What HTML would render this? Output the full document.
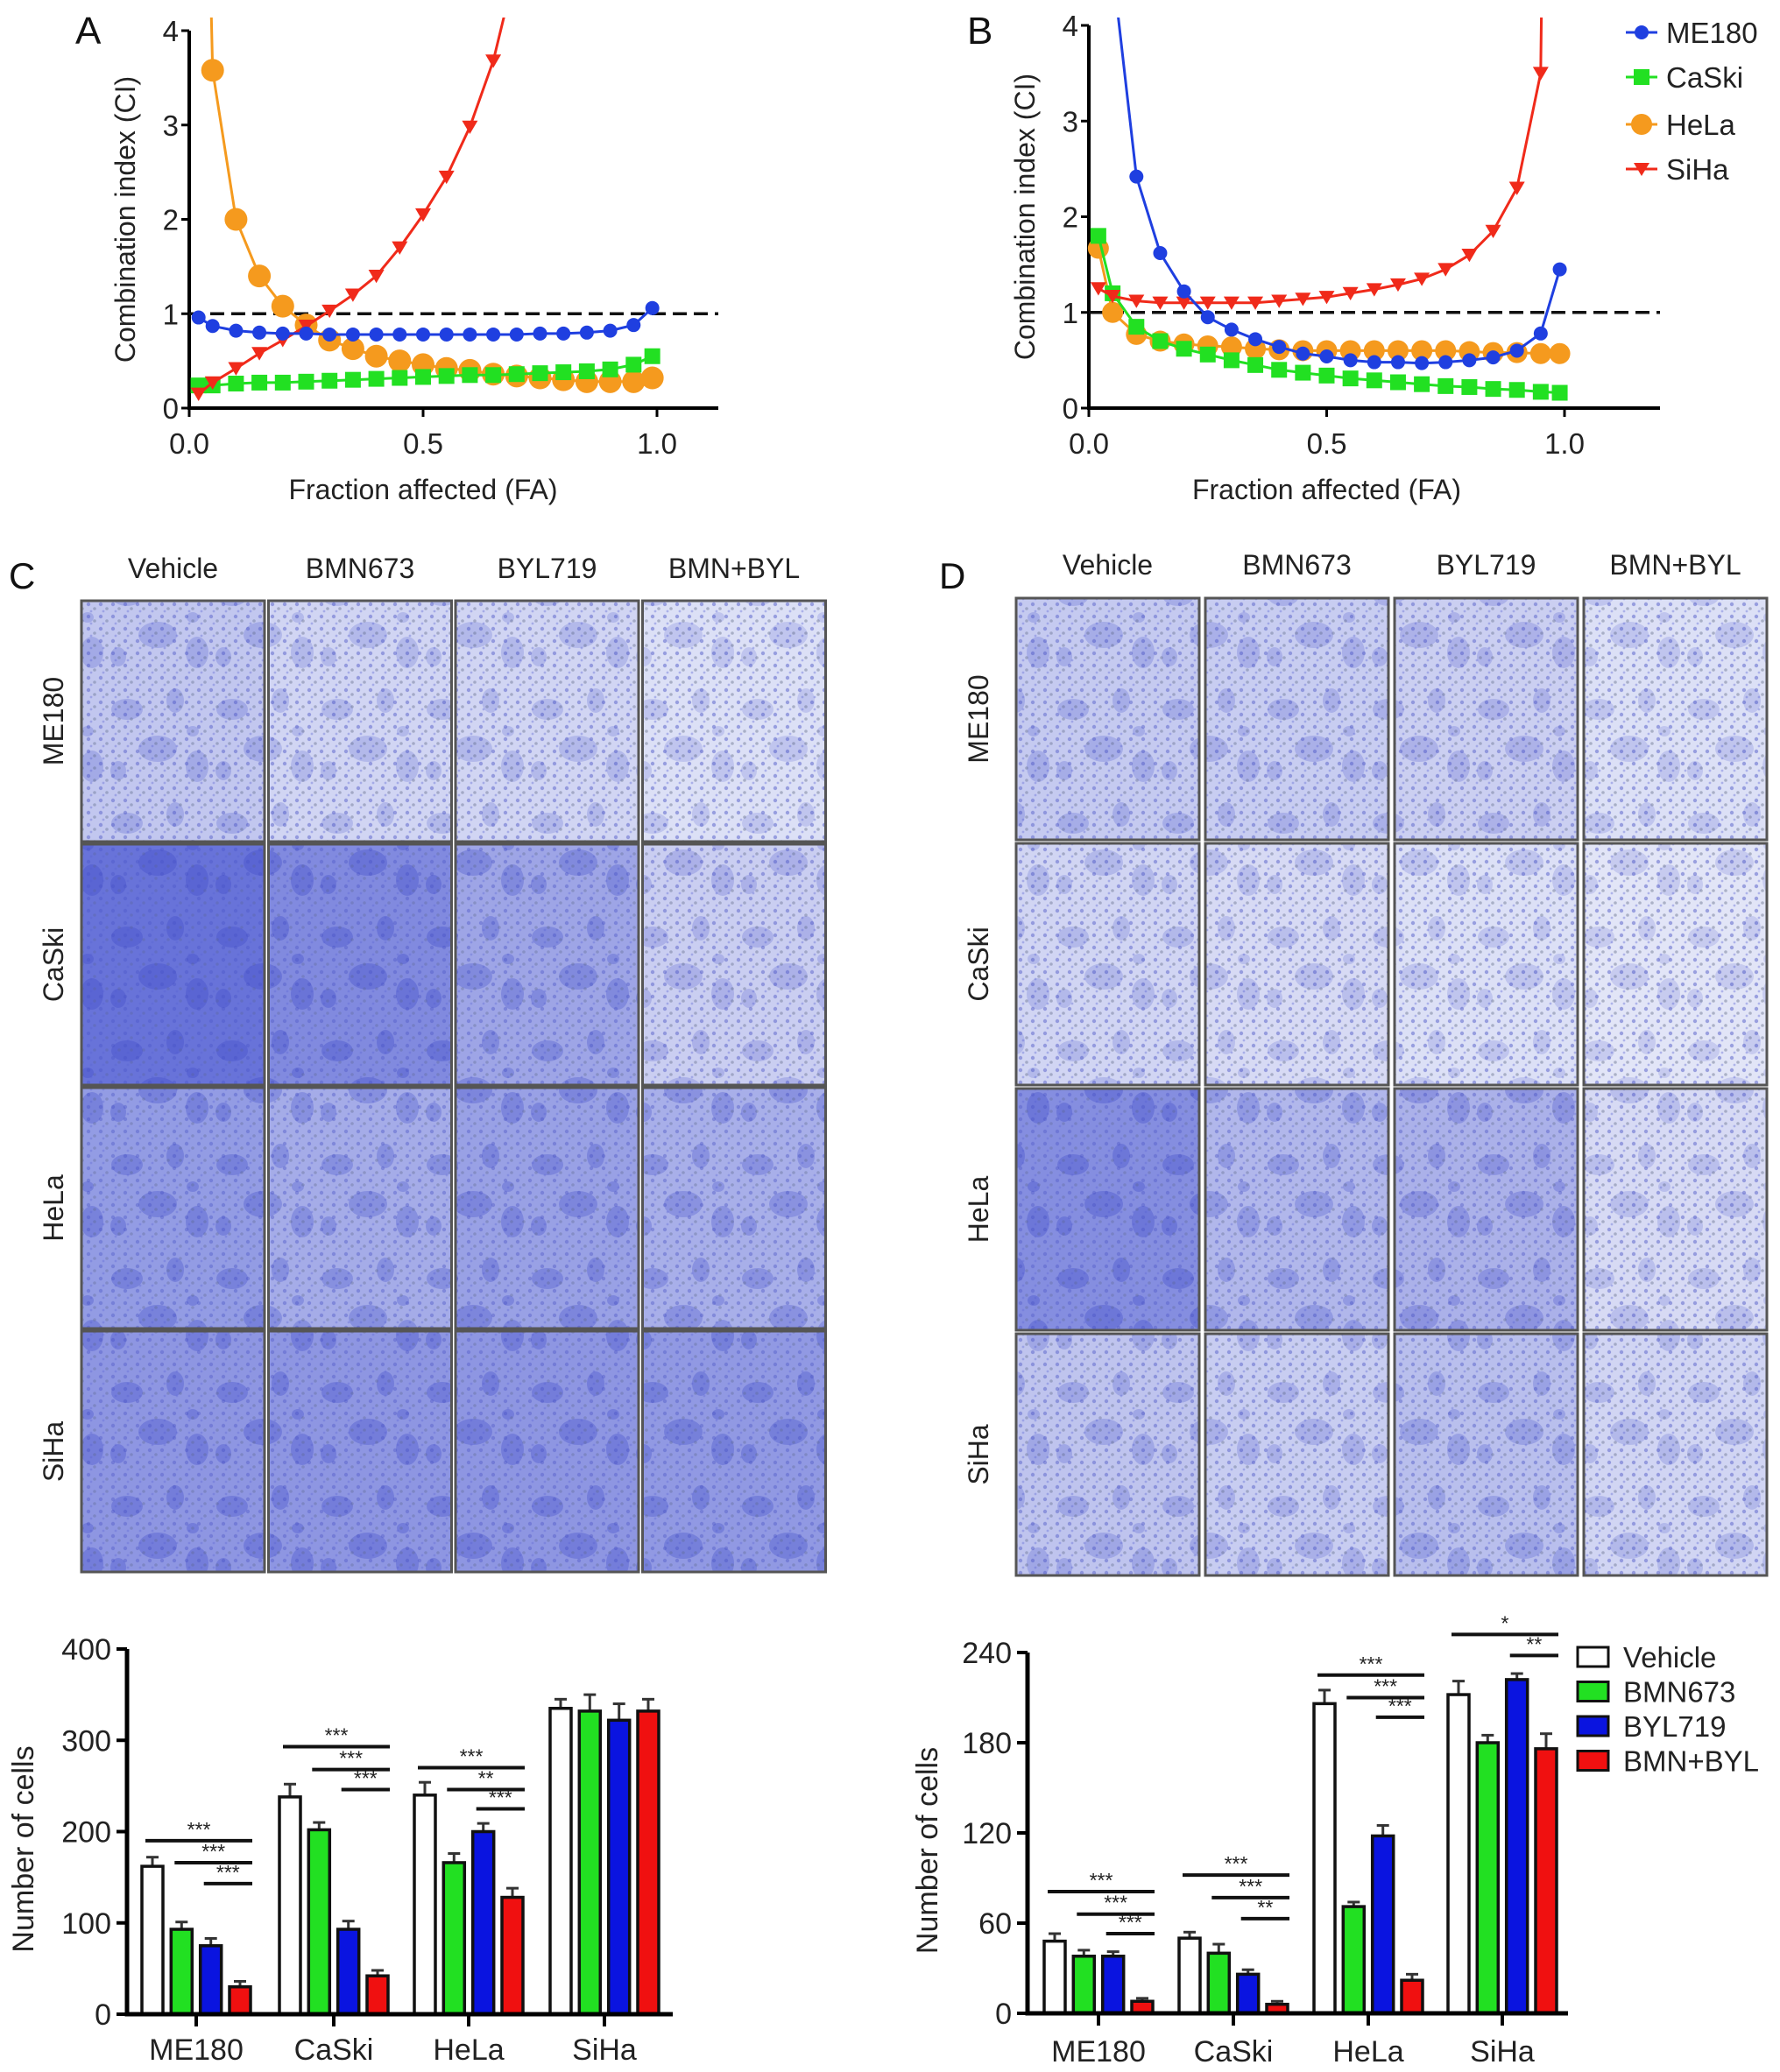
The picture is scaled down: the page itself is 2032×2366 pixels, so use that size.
<!DOCTYPE html>
<html><head><meta charset="utf-8"><style>
html,body{margin:0;padding:0;background:#fff;}
svg{display:block;font-family:"Liberation Sans",Arial,sans-serif;}
</style></head><body>
<svg id="fig" width="2032" height="2366" viewBox="0 0 2032 2366" xmlns="http://www.w3.org/2000/svg">
<defs>
<clipPath id="clipA"><rect x="200" y="20" width="630" height="460"/></clipPath>
<clipPath id="clipB"><rect x="1228" y="20" width="680" height="460"/></clipPath>
<pattern id="speck" width="14" height="14" patternUnits="userSpaceOnUse">
<circle cx="3" cy="4" r="2.2" fill="#3b46c0" opacity="0.5"/>
<circle cx="10" cy="9" r="1.8" fill="#55607a" opacity="0.45"/>
<circle cx="6" cy="12" r="1.4" fill="#4a56d0" opacity="0.4"/>
</pattern>
<pattern id="blobs" width="120" height="130" patternUnits="userSpaceOnUse">
<ellipse cx="25" cy="30" rx="18" ry="12" fill="#4a55cc"/>
<ellipse cx="80" cy="20" rx="10" ry="14" fill="#4a55cc"/>
<ellipse cx="60" cy="75" rx="22" ry="15" fill="#4a55cc"/>
<ellipse cx="15" cy="100" rx="9" ry="11" fill="#4a55cc"/>
<ellipse cx="105" cy="95" rx="13" ry="18" fill="#4a55cc"/>
<ellipse cx="100" cy="55" rx="7" ry="6" fill="#4a55cc"/>
</pattern>
</defs>
<g id="root"></g>
</svg>
<script>
// ---- Line chart data (CI vs FA) ----
const fa = [0.02,0.05,0.1,0.15,0.2,0.25,0.3,0.35,0.4,0.45,0.5,0.55,0.6,0.65,0.7,0.75,0.8,0.85,0.9,0.95,0.99];
const aME180 = [0.96,0.87,0.82,0.80,0.79,0.79,0.78,0.78,0.78,0.78,0.78,0.78,0.78,0.78,0.78,0.79,0.79,0.80,0.82,0.88,1.06];
const aCaSki = [0.24,0.24,0.26,0.27,0.27,0.28,0.29,0.30,0.31,0.32,0.33,0.34,0.35,0.35,0.36,0.37,0.38,0.39,0.41,0.46,0.55];
const aHeLa  = [10,3.58,2.0,1.4,1.08,0.88,0.72,0.63,0.55,0.5,0.46,0.42,0.4,0.36,0.34,0.32,0.3,0.28,0.28,0.28,0.32];
const aSiHa  = [0.15,0.27,0.42,0.58,0.72,0.87,1.03,1.2,1.4,1.7,2.05,2.45,2.98,3.68,4.7,null,null,null,null,null,null];
const bME180 = [8,4.6,2.42,1.62,1.22,0.95,0.82,0.72,0.64,0.57,0.54,0.5,0.48,0.48,0.47,0.48,0.5,0.53,0.6,0.78,1.45];
const bCaSki = [1.8,1.2,0.85,0.7,0.62,0.56,0.5,0.45,0.4,0.37,0.34,0.31,0.29,0.27,0.25,0.23,0.22,0.2,0.19,0.17,0.16];
const bHeLa  = [1.67,1.0,0.77,0.7,0.67,0.65,0.64,0.62,0.61,0.6,0.6,0.6,0.6,0.6,0.6,0.6,0.59,0.58,0.58,0.57,0.57];
const bSiHa  = [1.25,1.17,1.12,1.1,1.1,1.1,1.1,1.1,1.12,1.14,1.16,1.2,1.24,1.29,1.35,1.45,1.6,1.85,2.3,3.5,20];
const ciTicks = [0,1,2,3,4];
const faTicks = ["0.0","0.5","1.0"];
const faTickVals = [0,0.5,1];
// ---- Bar chart data ----
const cellLines = ["ME180","CaSki","HeLa","SiHa"];
const treatments = ["Vehicle","BMN673","BYL719","BMN+BYL"];
const cVehicle = [162,238,240,335];
const cBMN = [93,202,166,332];
const cBYL = [75,93,200,322];
const cCombo = [30,42,128,332];
const cErr = [[10,14,14,10],[8,8,10,18],[8,9,9,18],[6,6,10,13]];
const cTicks = [0,100,200,300,400];
const dVehicle = [48,50,206,212];
const dBMN = [38,40,71,180];
const dBYL = [38,26,118,222];
const dCombo = [8,6,22,176];
const dErr = [[5,4,9,9],[4,6,3,5],[3,3,7,4],[2,2,4,10]];
const dTicks = [0,60,120,180,240];
const cSig = [[0,0,3,190,"***"],[0,1,3,166,"***"],[0,2,3,143,"***"],[1,0,3,293,"***"],[1,1,3,268,"***"],[1,2,3,246,"***"],[2,0,3,270,"***"],[2,1,3,246,"**"],[2,2,3,225,"***"]];
const dSig = [[0,0,3,81,"***"],[0,1,3,66,"***"],[0,2,3,53,"***"],[1,0,3,92,"***"],[1,1,3,77,"***"],[1,2,3,63,"**"],[2,0,3,225,"***"],[2,1,3,210,"***"],[2,2,3,197,"***"],[3,0,3,252,"*"],[3,2,3,238,"**"]];
// micrograph stain density
const cDensity = [[0.3,0.2,0.2,0.12],[0.92,0.75,0.55,0.25],[0.62,0.5,0.58,0.48],[0.66,0.66,0.66,0.64]];
const dDensity = [[0.28,0.26,0.24,0.12],[0.2,0.16,0.12,0.08],[0.72,0.42,0.46,0.16],[0.32,0.26,0.36,0.2]];

const NS="http://www.w3.org/2000/svg";
const root=document.getElementById('root');
function el(tag,attrs,parent){const e=document.createElementNS(NS,tag);for(const k in attrs)e.setAttribute(k,attrs[k]);(parent||root).appendChild(e);return e;}
function txt(s,attrs,parent){const e=el('text',attrs,parent);e.textContent=s;return e;}

const colors={ME180:"#1f3fe0",CaSki:"#22e022",HeLa:"#f59a1e",SiHa:"#f02a1a"};

function lineChart(p){
  const g=el('g',{});
  
  
  const X=v=>p.x0+(p.x1-p.x0)*v, Y=v=>p.y0-(p.y0-p.y4)*v/4;
  const ax=el('path',{d:`M${p.x0} ${p.y4} V${p.y0} H${p.xe}`,stroke:'#000','stroke-width':4,fill:'none'},g);
  
  
  ciTicks.forEach(t=>{
    el('line',{x1:p.x0-9,x2:p.x0,y1:Y(t),y2:Y(t),stroke:'#000','stroke-width':3},g);
    const l=txt(String(t),{x:p.x0-12,y:Y(t)+12,'text-anchor':'end','font-size':33,fill:'#222'},g);
    
    
  });
  faTickVals.forEach((t,i)=>{
    el('line',{x1:X(t),x2:X(t),y1:p.y0,y2:p.y0+10,stroke:'#000','stroke-width':3},g);
    const l=txt(faTicks[i],{x:X(t),y:p.y0+52,'text-anchor':'middle','font-size':33,fill:'#222'},g);
    
    
  });
  const yt=txt('Combination index (CI)',{x:0,y:0,'text-anchor':'middle','font-size':32,fill:'#222',transform:`translate(${p.x0-62},${(p.y0+p.y4)/2}) rotate(-90)`},g);
  
  
  const xt=txt('Fraction affected (FA)',{x:(p.x0+p.x1)/2,y:p.y0+104,'text-anchor':'middle','font-size':32,fill:'#222'},g);
  
  
  const dl=el('line',{x1:p.x0,x2:p.xe,y1:Y(1),y2:Y(1),stroke:'#111','stroke-width':3.5,'stroke-dasharray':'16 8'},g);
  
  
  const pg=el('g',{'clip-path':`url(#${p.clip})`},g);
  p.series.forEach(s=>{
    const sg=el('g',{},pg);
    
    
    let d='';
    s.vals.forEach((v,i)=>{if(v===null)return;d+=(d?'L':'M')+X(fa[i]).toFixed(1)+' '+Y(v).toFixed(1);});
    el('path',{d,stroke:s.color,'stroke-width':3,fill:'none'},sg);
    s.vals.forEach((v,i)=>{
      if(v===null||v>4.05)return;
      const cx=X(fa[i]),cy=Y(v);let m;
      if(s.shape==='circle')m=el('circle',{cx,cy,r:s.r,fill:s.color},sg);
      else if(s.shape==='square')m=el('rect',{x:cx-s.r,y:cy-s.r,width:2*s.r,height:2*s.r,fill:s.color},sg);
      else m=el('path',{d:`M${cx-s.r} ${cy-s.r*0.8} H${cx+s.r} L${cx} ${cy+s.r*0.9} Z`,fill:s.color},sg);
      
      
    });
  });
  const pl=txt(p.letter,{x:p.lx,y:p.ly,'font-size':44,fill:'#111'},g);
  
  
}
lineChart({name:'panel-a-ci-chart',letter:'A',lx:86,ly:50,x0:216,x1:750,xe:820,y0:466,y4:35,clip:'clipA',series:[
  {label:'HeLa',vals:aHeLa,color:colors.HeLa,shape:'circle',r:13},
  {label:'CaSki',vals:aCaSki,color:colors.CaSki,shape:'square',r:9},
  {label:'SiHa',vals:aSiHa,color:colors.SiHa,shape:'tri',r:9},
  {label:'ME180',vals:aME180,color:colors.ME180,shape:'circle',r:8}]});
lineChart({name:'panel-b-ci-chart',letter:'B',lx:1104,ly:50,x0:1243,x1:1786,xe:1895,y0:466,y4:29,clip:'clipB',series:[
  {label:'HeLa',vals:bHeLa,color:colors.HeLa,shape:'circle',r:12},
  {label:'CaSki',vals:bCaSki,color:colors.CaSki,shape:'square',r:9},
  {label:'SiHa',vals:bSiHa,color:colors.SiHa,shape:'tri',r:9},
  {label:'ME180',vals:bME180,color:colors.ME180,shape:'circle',r:8}]});
const lgB=el('g',{});


[["ME180","circle",37],["CaSki","square",88],["HeLa","circle2",142],["SiHa","tri",193]].forEach(r=>{
  const c=colors[r[0]],y=r[2];
  const eg=el('g',{},lgB);
  
  
  el('line',{x1:1856,x2:1892,y1:y,y2:y,stroke:c,'stroke-width':3},eg);
  if(r[1]==='circle')el('circle',{cx:1874,cy:y,r:8,fill:c},eg);
  else if(r[1]==='circle2')el('circle',{cx:1874,cy:y,r:12,fill:c},eg);
  else if(r[1]==='square')el('rect',{x:1865,y:y-9,width:18,height:18,fill:c},eg);
  else el('path',{d:`M1865 ${y-7} H1883 L1874 ${y+8} Z`,fill:c},eg);
  txt(r[0],{x:1902,y:y+12,'font-size':33,fill:'#222'},eg);
});

// ---- micrographs ----
function grid(p){
  const g=el('g',{});
  
  
  const pl=txt(p.letter,{x:p.lx,y:p.ly,'font-size':42,fill:'#111'},g);
  
  
  treatments.forEach((t,j)=>{
    const h=txt(t,{x:p.x+j*p.px+p.w/2,y:p.hy,'text-anchor':'middle','font-size':32,fill:'#222'},g);
    
    
  });
  cellLines.forEach((c,i)=>{
    const yy=p.y+i*p.py;
    const rl=txt(c,{x:0,y:0,'text-anchor':'middle','font-size':32,fill:'#222',transform:`translate(${p.rx},${yy+p.h/2}) rotate(-90)`},g);
    
    
    treatments.forEach((t,j)=>{
      const d=p.dens[i][j];
      const r=Math.round(238-(238-92)*d),gg=Math.round(240-(240-104)*d),b=Math.round(250-(250-214)*d);
      const xx=p.x+j*p.px;
      const cg=el('g',{},g);
      
      
      el('rect',{x:xx,y:yy,width:p.w,height:p.h,fill:`rgb(${r},${gg},${b})`},cg);
      el('rect',{x:xx,y:yy,width:p.w,height:p.h,fill:'url(#blobs)',opacity:0.15+0.35*d,transform:`translate(0,0)`},cg);
      el('rect',{x:xx,y:yy,width:p.w,height:p.h,fill:'url(#speck)',opacity:0.5+0.4*(1-d)},cg);
      el('rect',{x:xx,y:yy,width:p.w,height:p.h,fill:'none',stroke:'#555','stroke-width':3},cg);
    });
  });
}
grid({name:'panel-c-micrographs',letter:'C',lx:10,ly:672,x:93,y:686,w:209,h:275,px:213.5,py:278,hy:660,rx:72,dens:cDensity});
grid({name:'panel-d-micrographs',letter:'D',lx:1072,ly:672,x:1160,y:683,w:209,h:276,px:216,py:280,hy:656,rx:1128,dens:dDensity});

// ---- bar charts ----
const barColors=["#ffffff","#22e022","#0a14e0","#f01010"];
function barChart(p){
  const g=el('g',{});
  
  
  const Y=v=>p.y0-(p.y0-p.yTop)*v/p.max;
  const offs=[-50,-16.7,16.7,50];
  p.series.forEach((s,k)=>{
    s.forEach((v,i)=>{
      const cx=p.centers[i]+offs[k],e=p.err[k][i];
      const bg=el('g',{},g);
      
      
      el('line',{x1:cx,x2:cx,y1:Y(v),y2:Y(v+e),stroke:'#333','stroke-width':3},bg);
      el('line',{x1:cx-7,x2:cx+7,y1:Y(v+e),y2:Y(v+e),stroke:'#333','stroke-width':3},bg);
      el('rect',{x:cx-12,y:Y(v),width:24,height:p.y0-Y(v),fill:barColors[k],stroke:'#111','stroke-width':3.5},bg);
    });
  });
  const ax=el('path',{d:`M${p.x0} ${p.yTop} V${p.y0} H${p.xe}`,stroke:'#000','stroke-width':5,fill:'none'},g);
  
  
  p.ticks.forEach(t=>{
    el('line',{x1:p.x0-12,x2:p.x0,y1:Y(t),y2:Y(t),stroke:'#000','stroke-width':4},g);
    const l=txt(String(t),{x:p.x0-18,y:Y(t)+12,'text-anchor':'end','font-size':34,fill:'#222'},g);
    
    
  });
  cellLines.forEach((c,i)=>{
    el('line',{x1:p.centers[i],x2:p.centers[i],y1:p.y0,y2:p.y0+14,stroke:'#000','stroke-width':4},g);
    const l=txt(c,{x:p.centers[i],y:p.labY,'text-anchor':'middle','font-size':34,fill:'#222'},g);
    
    
  });
  const yt=txt('Number of cells',{x:0,y:0,'text-anchor':'middle','font-size':34,fill:'#222',transform:`translate(${p.ytx},${(p.y0+p.yTop)/2+20}) rotate(-90)`},g);
  
  
  p.sig.forEach(s=>{
    const x1=p.centers[s[0]]+offs[s[1]]-8,x2=p.centers[s[0]]+offs[s[2]]+14,y=Y(s[3]);
    const sg=el('g',{},g);
    
    
    el('line',{x1,x2,y1:y,y2:y,stroke:'#111','stroke-width':4},sg);
    txt(s[4],{x:(x1+x2)/2,y:y-5,'text-anchor':'middle','font-size':23,fill:'#222'},sg);
  });
}
barChart({name:'panel-c-bar-chart',x0:145,xe:768,y0:2300,yTop:1883,max:400,ticks:cTicks,centers:[224,381,535,690],series:[cVehicle,cBMN,cBYL,cCombo],err:cErr,sig:cSig,labY:2352,ytx:38});
barChart({name:'panel-d-bar-chart',x0:1173,xe:1790,y0:2299,yTop:1887,max:240,ticks:dTicks,centers:[1254,1408,1562,1715],series:[dVehicle,dBMN,dBYL,dCombo],err:dErr,sig:dSig,labY:2354,ytx:1070});
const lgD=el('g',{});


treatments.forEach((t,k)=>{
  const y=1892+k*39.5;
  const eg=el('g',{},lgD);
  
  
  el('rect',{x:1801,y:y-11,width:35,height:22,fill:barColors[k],stroke:'#111','stroke-width':3},eg);
  txt(t,{x:1853,y:y+12,'font-size':33,fill:'#222'},eg);
});
</script>
</body></html>
